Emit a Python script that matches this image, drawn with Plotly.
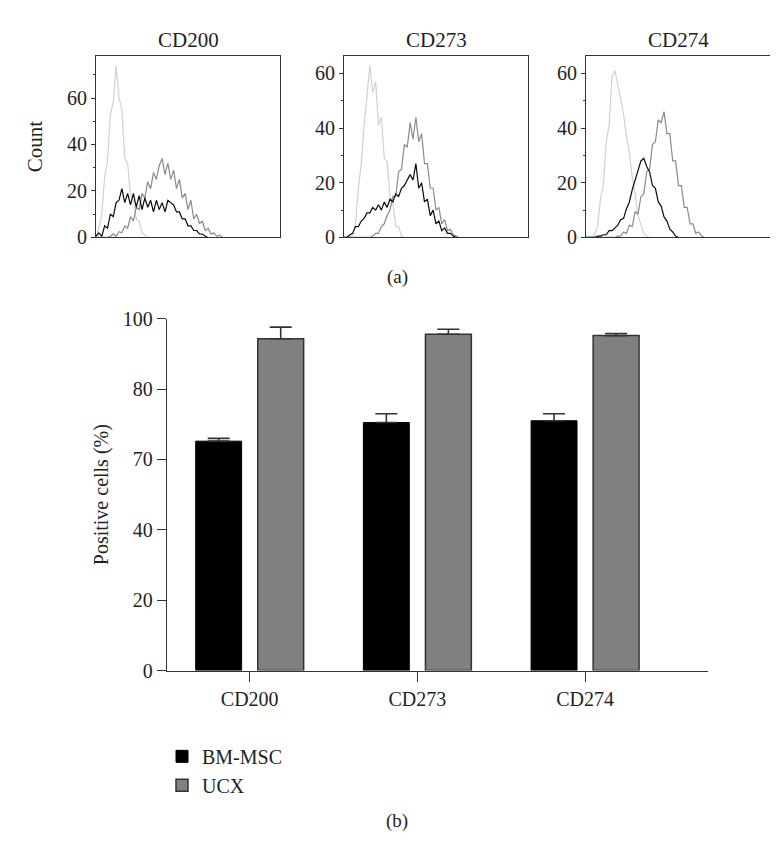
import plotly.graph_objects as go

# ---------------- data ----------------
# Flow cytometry histograms (count per channel bin, 64 bins across each panel)
markers = ["CD200", "CD273", "CD274"]

cd200_isotype = [0, 4, 10, 26, 33, 53, 58, 74, 60, 55, 34, 32, 18, 16, 8, 7, 2, 1, 0]
cd200_bmmsc = [0.5, 2, 0.5, 5, 4, 10, 9, 15, 16, 21, 15, 19, 14, 19, 13, 18, 12, 17, 13, 16,
               11, 16, 12, 15, 11, 16, 15, 14, 11, 11, 8, 8, 5, 5, 3, 3, 1.5, 1.5, 0.5, 0]
cd200_ucx = [0, 0, 0, 0, 0, 0.5, 1.5, 0.5, 2.5, 2, 5, 4, 9, 7, 13, 12, 19, 17, 24, 21,
             28, 25, 31, 34, 27, 32, 25, 29, 21, 25, 17, 19, 12, 16, 8, 10, 6, 7, 3, 4,
             1.5, 2, 0.5, 1, 0]

cd273_isotype = [0, 0, 0, 1, 5, 18, 27, 41, 51, 63, 53, 57, 41, 44, 29, 28, 15, 13, 4, 4, 0.5, 0]
cd273_bmmsc = [0, 0, 1, 1.5, 4, 4, 6, 7, 9, 9, 11, 10, 12, 10, 13, 11, 14, 13, 16, 15,
               18, 19, 21, 23, 21, 27, 18, 20, 13, 14, 8, 10, 5, 6, 2.5, 3.5, 1.5, 1.5, 0.5, 0]
cd273_ucx = [0, 0, 0, 0, 0, 0, 0, 0, 0, 0, 0.5, 1.5, 1.5, 4, 5, 8, 10, 15, 15, 24,
             25, 34, 33, 42, 36, 44, 35, 38, 27, 27, 18, 18, 10, 11, 5, 6.5, 2.5, 3, 1, 0.5, 0]

cd274_isotype = [0, 0, 0, 1, 4, 14, 19, 35, 41, 59, 61, 56, 50, 45, 37, 31, 22, 16, 8, 5, 1.5, 0.5, 0]
cd274_bmmsc = [0, 0, 0, 0, 0.5, 0.5, 1, 1, 2.5, 2.5, 3.5, 4.5, 6.5, 7, 10.5, 13, 17.5, 21, 25, 28,
               29, 26, 24, 19, 18, 13, 11.5, 7.5, 6, 3, 2, 0.5, 0]
cd274_ucx = [0, 0, 0, 0, 0, 0, 0, 0, 0, 0, 0, 0.5, 0.5, 2, 1.5, 4.5, 4, 9.5, 8.5, 15,
             16, 24, 25, 34, 35, 43, 42, 46, 38, 38, 28, 28, 19, 19, 11, 11, 5, 5, 1.5, 2,
             0.5, 0]

hist_yticks = [0, 20, 40, 60]

# Bar chart: percentage of positive cells
bm_msc = [65.2, 70.5, 71.0]
bm_msc_err = [0.8, 2.5, 2.0]
ucx = [94.3, 95.6, 95.2]
ucx_err = [3.3, 1.4, 0.6]
bar_tickvals = [0, 20, 40, 60, 80, 100]
bar_ticktext = ["0", "20", "40", "70", "80", "100"]

# ---------------- styling ----------------
FONT = "Liberation Serif, Times New Roman, serif"
TXT = "#231f20"
AX = "#333333"
LIGHT = "#d3d0cd"
MID = "#8a8a8a"
DARK = "#0a0a0a"

W, H = 778, 846

def px(x):
    return x / W

def py(y):
    return 1 - y / H

fig = go.Figure()

panels = [
    (cd200_isotype, cd200_ucx, cd200_bmmsc),
    (cd273_isotype, cd273_ucx, cd273_bmmsc),
    (cd274_isotype, cd274_ucx, cd274_bmmsc),
]
for k, (iso, uc, bm) in enumerate(panels):
    xa = "x" if k == 0 else f"x{k+1}"
    ya = "y" if k == 0 else f"y{k+1}"
    for series, col in ((iso, LIGHT), (uc, MID), (bm, DARK)):
        fig.add_trace(go.Scatter(
            x=list(range(len(series))), y=series, mode="lines",
            line=dict(color=col, width=1.2), showlegend=False,
            xaxis=xa, yaxis=ya, hoverinfo="skip"))

fig.add_trace(go.Bar(
    x=markers, y=bm_msc, name="BM-MSC", marker=dict(color="#000000", line=dict(color="#000000", width=1)),
    error_y=dict(type="data", array=bm_msc_err, arrayminus=[0, 0, 0], symmetric=False,
                 color=AX, thickness=1.6, width=11),
    xaxis="x4", yaxis="y4"))
fig.add_trace(go.Bar(
    x=markers, y=ucx, name="UCX", marker=dict(color="#808080", line=dict(color=AX, width=1.5)),
    error_y=dict(type="data", array=ucx_err, arrayminus=[0, 0, 0], symmetric=False,
                 color=AX, thickness=1.6, width=11),
    xaxis="x4", yaxis="y4"))

hist_x_domains = [(88, 272), (336, 520), (578, 763)]
hist_y_ranges = [78.2, 66.5, 66.5]
ydom = [py(224.3), py(37.7)]

layout = dict(
    width=W, height=H, margin=dict(l=0, r=0, t=0, b=0),
    paper_bgcolor="white", plot_bgcolor="white",
    font=dict(family=FONT, size=20, color=TXT),
    barmode="group", bargap=0.26, bargroupgap=0.26,
    showlegend=True,
    legend=dict(x=px(154), y=py(737), xanchor="left", yanchor="top",
                font=dict(family=FONT, size=20, color=TXT), bgcolor="rgba(0,0,0,0)",
                itemwidth=30, tracegroupgap=4),
)

for k in range(3):
    xs = "xaxis" if k == 0 else f"xaxis{k+1}"
    ys = "yaxis" if k == 0 else f"yaxis{k+1}"
    anchor_x = "y" if k == 0 else f"y{k+1}"
    anchor_y = "x" if k == 0 else f"x{k+1}"
    x0, x1 = hist_x_domains[k]
    layout[xs] = dict(domain=[px(x0), px(x1)], range=[0, 64], anchor=anchor_x,
                      showgrid=False, zeroline=False, showticklabels=False, ticks="",
                      showline=True, linecolor=AX, linewidth=1.2, mirror=True)
    yd = dict(domain=ydom, range=[0, hist_y_ranges[k]], anchor=anchor_y,
              showgrid=False, zeroline=False, tickvals=hist_yticks,
              ticks="outside", ticklen=4, tickcolor=AX, tickwidth=1,
              minor=dict(dtick=10, tick0=0, ticks="outside", ticklen=2, tickcolor=AX),
              showline=True, linecolor=AX, linewidth=1.2, mirror=True,
              tickfont=dict(family=FONT, size=20, color=TXT))
    if k == 0:
        yd["title"] = dict(text="Count", font=dict(family=FONT, size=21, color=TXT), standoff=18)
    layout[ys] = yd

layout["xaxis4"] = dict(domain=[px(159), px(700)], range=[-0.493, 2.733], anchor="y4",
                        showgrid=False, zeroline=False, showline=True, linecolor=AX, linewidth=1.3,
                        ticks="outside", ticklen=10, tickcolor=AX, tickwidth=1.3,
                        tickfont=dict(family=FONT, size=20, color=TXT))
layout["yaxis4"] = dict(domain=[py(669), py(307.7)], range=[0, 100], anchor="x4",
                        showgrid=False, zeroline=False, showline=True, linecolor=AX, linewidth=1.3,
                        tickvals=bar_tickvals, ticktext=bar_ticktext,
                        ticks="outside", ticklen=9, tickcolor=AX, tickwidth=1.3,
                        tickfont=dict(family=FONT, size=20, color=TXT),
                        title=dict(text="Positive cells (%)", font=dict(family=FONT, size=20, color=TXT),
                                   standoff=8))

annotations = []
for k, name in enumerate(markers):
    x0, x1 = hist_x_domains[k]
    annotations.append(dict(text=name, x=px((x0 + x1) / 2), y=py(22), xref="paper", yref="paper",
                            showarrow=False, xanchor="center", yanchor="middle",
                            font=dict(family=FONT, size=21, color=TXT)))
annotations.append(dict(text="(a)", x=px(389), y=py(265), xref="paper", yref="paper", showarrow=False,
                        xanchor="center", yanchor="middle", font=dict(family=FONT, size=19, color=TXT)))
annotations.append(dict(text="(b)", x=px(389), y=py(823), xref="paper", yref="paper", showarrow=False,
                        xanchor="center", yanchor="middle", font=dict(family=FONT, size=19, color=TXT)))
layout["annotations"] = annotations

fig.update_layout(**layout)
fig.write_html("out.html")
